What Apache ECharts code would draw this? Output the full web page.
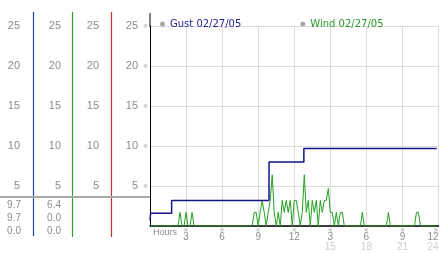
<!DOCTYPE html>
<html><head><meta charset="utf-8">
<script src="https://cdn.jsdelivr.net/npm/echarts@6/dist/echarts.min.js"></script>
<style>html,body{margin:0;padding:0;background:#fff}#c{width:442px;height:253px}</style>
</head><body><div id="c"></div>
<script>
// ---- data ----
const yTickValues = [0, 5, 10, 15, 20, 25];
const xTickHours = [0, 3, 6, 9, 12, 15, 18, 21, 24];
const xTickTop = ['', '3', '6', '9', '12', '3', '6', '9', '12'];
const xTickBottom = ['', '', '', '', '', '15', '18', '21', '24'];
const legendNames = ['Gust 02/27/05', 'Wind 02/27/05'];
const gustHours = [0, 0.05, 1.8, 9.9, 12.8, 23.85];
const gustValues = [0.7, 1.6, 3.2, 8.0, 9.7, 9.7];
const windStepHours = 1 / 6; // one sample every 10 minutes
const windValues = [
  0,0,0,0,0,0,0,0,0,0,0,0,0,0,0,
  1.7,0,0,1.7,0,0,1.7,
  0,0,0,0,0,0,0,0,0,0,0,0,0,0,0,0,0,0,0,0,0,0,0,0,0,0,0,0,0,0,
  1.7,1.7,0,1.7,3.2,1.7,0,1.7,3.2,6.4,1.7,0,1.7,0,3.2,1.7,3.2,1.7,3.2,0,
  3.2,3.2,1.7,0,1.7,6.4,1.7,3.2,0,3.2,1.7,3.2,0,3.2,1.7,3.2,3.2,4.7,1.7,1.7,
  0,1.7,0,1.7,1.7,
  0,0,0,0,0,0,0,0,0,
  1.7,
  0,0,0,0,0,0,0,0,0,0,0,0,
  1.7,
  0,0,0,0,0,0,0,0,0,0,0,0,0,
  1.7,1.7,
  0,0,0,0,0,0,0,0,0
];
const readoutGust = ['9.7', '9.7', '0.0'];
const readoutWind = ['6.4', '0.0', '0.0'];

// ---- chart ----
const chart = echarts.init(document.getElementById('c'), null, {renderer: 'canvas'});
const gustData = gustHours.map((h, i) => [h, gustValues[i]]);
const windData = windValues.map((v, i) => [i * windStepHours, v]);
const FONT = 'Liberation Sans';
const labelGray = '#8c8c8c';

function colAxis(offset) {
  return {
    type: 'value', min: 0, max: 25, interval: 5, position: 'left', offset: offset,
    axisLine: {show: false}, axisTick: {show: false}, splitLine: {show: false},
    axisLabel: {margin: 0, color: labelGray, fontSize: 11, fontFamily: FONT,
      formatter: v => (v === 0 ? '' : String(v))}
  };
}

const readoutGraphics = [];
readoutGust.forEach((t, i) => readoutGraphics.push({type: 'text', right: 442 - 21, top: 200 + i * 13,
  style: {text: t, fill: labelGray, font: '10px ' + FONT, textAlign: 'right'}}));
readoutWind.forEach((t, i) => readoutGraphics.push({type: 'text', right: 442 - 61, top: 200 + i * 13,
  style: {text: t, fill: labelGray, font: '10px ' + FONT, textAlign: 'right'}}));

chart.setOption({
  animation: false,
  backgroundColor: '#fff',
  grid: {left: 150, right: 3.5, top: 26, bottom: 27, containLabel: false},
  legend: {
    top: 14, left: 155, itemWidth: 5, itemHeight: 5, itemGap: 59, icon: 'circle',
    textStyle: {fontSize: 10, fontFamily: 'DejaVu Sans'},
    data: [
      {name: legendNames[0], textStyle: {color: '#26269a'}, itemStyle: {color: '#a8a8a8'}},
      {name: legendNames[1], textStyle: {color: '#2a9a2a'}, itemStyle: {color: '#a8a8a8'}}
    ]
  },
  xAxis: {
    type: 'value', min: 0, max: 24, interval: 3,
    axisLine: {show: true, lineStyle: {color: '#000', width: 1.5}},
    axisTick: {show: false},
    splitLine: {show: true, lineStyle: {color: '#dcdcdc', width: 1}},
    axisLabel: {
      margin: 2, alignMaxLabel: 'right',
      formatter: v => {
        const i = xTickHours.indexOf(v);
        if (i <= 0) return '';
        return '{m|※}\n{a|' + xTickTop[i] + '}\n{b|' + (xTickBottom[i] || ' ') + '}';
      },
      rich: {
        m: {fontSize: 6, lineHeight: 5, color: '#aaa', fontFamily: 'DejaVu Sans'},
        a: {fontSize: 10, lineHeight: 9, color: labelGray, fontFamily: FONT},
        b: {fontSize: 10, lineHeight: 10, color: '#cfcfcf', fontFamily: FONT}
      }
    }
  },
  yAxis: [
    {
      type: 'value', min: 0, max: 25, interval: 5, position: 'left',
      axisLine: {show: true, lineStyle: {color: '#000', width: 1}},
      axisTick: {show: false},
      splitLine: {show: true, lineStyle: {color: '#dcdcdc', width: 1}},
      axisLabel: {margin: 2, color: '#aaa', fontSize: 6, fontFamily: 'DejaVu Sans',
        formatter: v => (v === 0 ? '' : '※')}
    },
    colAxis(12), colAxis(51), colAxis(89), colAxis(130)
  ],
  graphic: [
    {type: 'line', shape: {x1: 33.5, y1: 12, x2: 33.5, y2: 236}, style: {stroke: '#1f45b0', lineWidth: 1.2}},
    {type: 'line', shape: {x1: 72.5, y1: 12, x2: 72.5, y2: 237}, style: {stroke: '#2ea02e', lineWidth: 1.2}},
    {type: 'line', shape: {x1: 111.5, y1: 12, x2: 111.5, y2: 237}, style: {stroke: '#c03434', lineWidth: 1.2}},
    {type: 'line', shape: {x1: 150, y1: 13, x2: 150, y2: 27}, style: {stroke: '#000', lineWidth: 1}},
    {type: 'line', shape: {x1: 0, y1: 197, x2: 150, y2: 197}, style: {stroke: '#a8a8a8', lineWidth: 2}},
    {type: 'text', left: 153, top: 228, style: {text: 'Hours', fill: labelGray, font: '9px ' + FONT}}
  ].concat(readoutGraphics),
  series: [
    {name: legendNames[0], type: 'line', step: 'end', data: gustData, showSymbol: false, symbol: 'none',
      lineStyle: {color: '#14148c', width: 1.5}, itemStyle: {color: '#14148c'}, z: 3},
    {name: legendNames[1], type: 'line', data: windData, showSymbol: false, symbol: 'none',
      lineStyle: {color: '#22a022', width: 1}, itemStyle: {color: '#22a022'}, z: 2}
  ]
});
</script></body></html>
